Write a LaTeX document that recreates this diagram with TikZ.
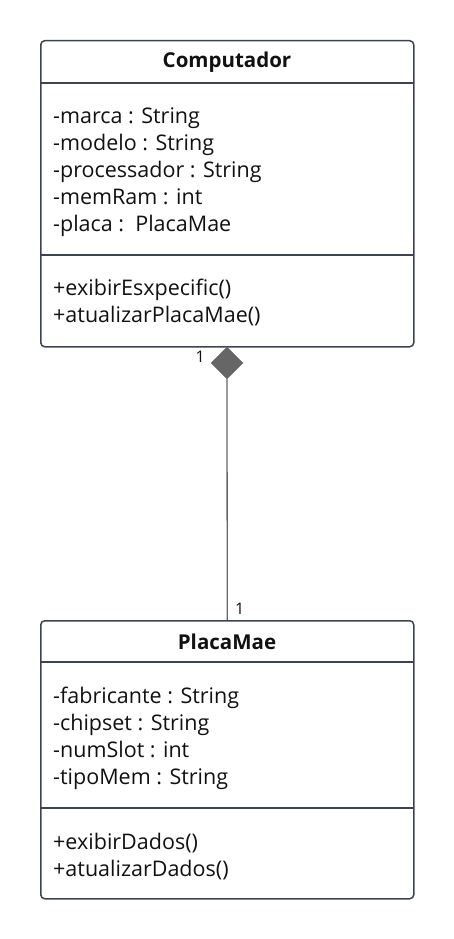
\documentclass[tikz,border=0pt]{standalone}
\usepackage{fontspec}
\setmainfont{Open Sans}
\usepackage{xcolor}
\definecolor{frame800}{HTML}{3D4350}
\definecolor{link600}{HTML}{666666}
\definecolor{text900}{HTML}{111111}
\usetikzlibrary{shapes.geometric, positioning, calc}

\begin{document}
\begin{tikzpicture}[
    x=1pt, y=-1pt,
    font=\fontsize{21.5}{27}\selectfont,
    text=text900,
    classbox/.style={draw=frame800, rounded corners=4pt, line width=1.5pt, minimum width=373pt, inner sep=0pt, anchor=north west},
    divider/.style={draw=frame800, line width=1.5pt},
    title/.style={font=\fontsize{20.5}{27}\selectfont\bfseries, anchor=base, inner sep=0pt},
    members/.style={align=left, anchor=north west, inner sep=0pt},
    mult/.style={font=\fontsize{16}{18}\selectfont, inner sep=0pt}
]
\useasboundingbox (0,0) rectangle (454,939);

% ── Computador ──
\node[classbox, minimum height=306pt] (comp) at (40,40) {};
\node[title] (comp_name) at (227,68) {Computador};
\draw[divider] (40,83) -- (413,83);
\node[members] (comp_attr) at (53,108) {-marca : String\\-modelo : String\\-processador : String\\-memRam : int\\-placa :\ \ PlacaMae};
\draw[divider] (40,255) -- (413,255);
\node[members] (comp_ops) at (53,279) {+exibirEsxpecific()\\+atualizarPlacaMae()};

% ── PlacaMae ──
\node[classbox, minimum height=278pt] (placa) at (40,620) {};
\node[title] (placa_name) at (227,649) {PlacaMae};
\draw[divider] (40,662) -- (413,662);
\node[members] (placa_attr) at (53,687) {-fabricante : String\\-chipset : String\\-numSlot : int\\-tipoMem : String};
\draw[divider] (40,808) -- (413,808);
\node[members] (placa_ops) at (53,833) {+exibirDados()\\+atualizarDados()};

% ── Composition ──
\node[diamond, fill=link600, draw=link600, inner sep=0pt, minimum width=32pt, minimum height=32pt] (comp_diam) at (227,363) {};
\draw[link600, line width=1.3pt] (comp_diam.south) -- (placa.north);
\node[mult, anchor=base east] (m_top) at (205,362) {1};
\node[mult, anchor=base west] (m_bot) at (235,614) {1};
\end{tikzpicture}
\end{document}
